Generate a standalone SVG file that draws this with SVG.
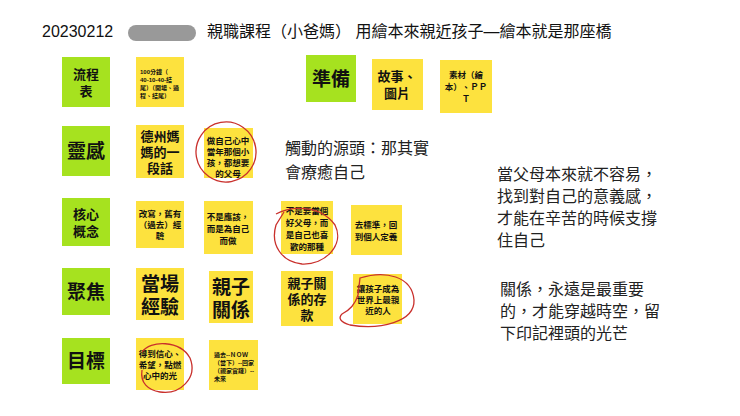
<svg xmlns="http://www.w3.org/2000/svg" width="740" height="416" viewBox="0 0 740 416">
<style>
text{font-family:"Liberation Sans","Noto Sans CJK TC",sans-serif;fill:#111}
.g{fill:#a6e21f}.y{fill:#fde23e}
.c{text-anchor:middle;font-weight:bold}
.red{fill:none;stroke:#c9302c;stroke-width:1.3}
.big{font-size:19px}.md{font-size:13px}.sm{font-size:8.5px}.xs{font-size:6px}
.note{font-size:16px;fill:#222}
</style>
<rect width="740" height="416" fill="#fff"/>
<g id="title"><text x="42" y="37" style="font-size:16px">20230212</text>
<rect x="128" y="25" width="68" height="16" rx="8" fill="#999"/>
<text x="207" y="37" style="font-size:16px">親職課程（小爸媽） 用繪本來親近孩子—繪本就是那座橋</text></g>
<g id="n1"><rect class="g" x="62" y="57" width="48" height="50"/><text class="c md" x="86" y="79">流程</text><text class="c md" x="86" y="96">表</text></g>
<g id="n2"><rect class="g" x="62" y="126" width="48" height="50"/><text class="c big" x="86" y="158">靈感</text></g>
<g id="n3"><rect class="g" x="62" y="198" width="48" height="48"/><text class="c md" x="86" y="219">核心</text><text class="c md" x="86" y="236">概念</text></g>
<g id="n4"><rect class="g" x="62" y="268" width="48" height="47"/><text class="c big" x="86" y="299">聚焦</text></g>
<g id="n5"><rect class="g" x="62" y="338" width="48" height="46"/><text class="c big" x="86" y="368">目標</text></g>
<g id="n6"><rect class="g" x="306" y="55" width="50" height="47"/><text class="c big" x="331" y="86">準備</text></g>
<g id="y1"><rect class="y" x="136" y="57" width="48" height="50"/><text class="c xs" x="140" y="74" text-anchor="start" style="text-anchor:start">100分鐘（</text><text class="xs" x="140" y="82" style="font-weight:bold">40-10-40-結</text><text class="xs" x="140" y="90" style="font-weight:bold">尾）（開場、過</text><text class="xs" x="140" y="98" style="font-weight:bold">程、結尾）</text></g>
<g id="y2"><rect class="y" x="136" y="125" width="48" height="53"/><text class="c md" x="160" y="141">德州媽</text><text class="c md" x="160" y="157">媽的一</text><text class="c md" x="160" y="173">段話</text></g>
<g id="y3"><rect class="y" x="204" y="128" width="49" height="50"/><text class="c sm" x="228" y="144">做自己心中</text><text class="c sm" x="228" y="155">當年那個小</text><text class="c sm" x="228" y="166">孩，都想要</text><text class="c sm" x="228" y="177">的父母</text></g>
<ellipse class="red" cx="226" cy="152" rx="30" ry="30" transform="rotate(-10 226 152)"/>
<g id="y4"><rect class="y" x="372" y="59" width="51" height="51"/><text class="c md" x="397" y="81">故事、</text><text class="c md" x="397" y="98">圖片</text></g>
<g id="y5"><rect class="y" x="440" y="60" width="52" height="53"/><text class="c sm" x="466" y="78">素材（繪</text><text class="c sm" x="466" y="90">本）、ＰＰ</text><text class="c sm" x="466" y="102">Ｔ</text></g>
<g id="y6"><rect class="y" x="136" y="201" width="48" height="47"/><text class="c sm" x="160" y="217">改寫，舊有</text><text class="c sm" x="160" y="228">（過去）經</text><text class="c sm" x="160" y="239">驗</text></g>
<g id="y7"><rect class="y" x="204" y="201" width="49" height="53"/><text class="c sm" x="228" y="220">不是應該，</text><text class="c sm" x="228" y="232">而是為自己</text><text class="c sm" x="228" y="244">而做</text></g>
<g id="y8"><rect class="y" x="281" y="201" width="52" height="53"/><text class="c sm" x="307" y="214">不是要當個</text><text class="c sm" x="307" y="226">好父母，而</text><text class="c sm" x="307" y="238">是自己也喜</text><text class="c sm" x="307" y="250">歡的那種</text></g>
<path class="red" d="M276 214 C290 206 320 204 335 225 C345 245 325 265 302 264 C282 262 270 245 276 225 L284 212"/>
<g id="y9"><rect class="y" x="351" y="205" width="51" height="50"/><text class="c sm" x="376" y="228">去標準，回</text><text class="c sm" x="376" y="240">到個人定義</text></g>
<g id="y10"><rect class="y" x="136" y="268" width="48" height="52"/><text class="c big" x="160" y="291">當場</text><text class="c big" x="160" y="314">經驗</text></g>
<g id="y11"><rect class="y" x="209" y="271" width="44" height="52"/><text class="c big" x="231" y="294">親子</text><text class="c big" x="231" y="317">關係</text></g>
<g id="y12"><rect class="y" x="281" y="271" width="52" height="55"/><text class="c md" x="307" y="288">親子關</text><text class="c md" x="307" y="304">係的存</text><text class="c md" x="307" y="320">款</text></g>
<g id="y13"><rect class="y" x="353" y="274" width="49" height="50"/><text class="c sm" x="378" y="292">讓孩子成為</text><text class="c sm" x="378" y="303">世界上最親</text><text class="c sm" x="378" y="314">近的人</text></g>
<path class="red" d="M360 278 C385 270 412 276 414 300 C415 322 380 330 350 325 C340 322 338 318 342 314 C350 310 355 305 358 295 Z"/>
<g id="y14"><rect class="y" x="136" y="338" width="48" height="52"/><text class="c sm" x="160" y="357">得到信心、</text><text class="c sm" x="160" y="368">希望，點燃</text><text class="c sm" x="160" y="379">心中的光</text></g>
<path class="red" d="M142 352 C150 340 180 340 190 358 C198 378 180 395 160 392 C148 390 140 383 142 370"/>
<g id="y15"><rect class="y" x="209" y="340" width="49" height="50"/><text class="xs" x="214" y="357" style="font-weight:bold">過去--ＮＯＷ</text><text class="xs" x="214" y="365" style="font-weight:bold">（當下）--回家</text><text class="xs" x="214" y="373" style="font-weight:bold">（親家實踐）--</text><text class="xs" x="214" y="381" style="font-weight:bold">未來</text></g>
<g id="notes">
<text class="note" x="285" y="154">觸動的源頭：那其實</text><text class="note" x="285" y="178">會療癒自己</text>
<text class="note" x="497" y="180">當父母本來就不容易，</text><text class="note" x="497" y="202">找到對自己的意義感，</text><text class="note" x="497" y="224">才能在辛苦的時候支撐</text><text class="note" x="497" y="246">住自己</text>
<text class="note" x="500" y="295">關係，永遠是最重要</text><text class="note" x="500" y="317">的，才能穿越時空，留</text><text class="note" x="500" y="339">下印記裡頭的光芒</text>
</g>
</svg>
